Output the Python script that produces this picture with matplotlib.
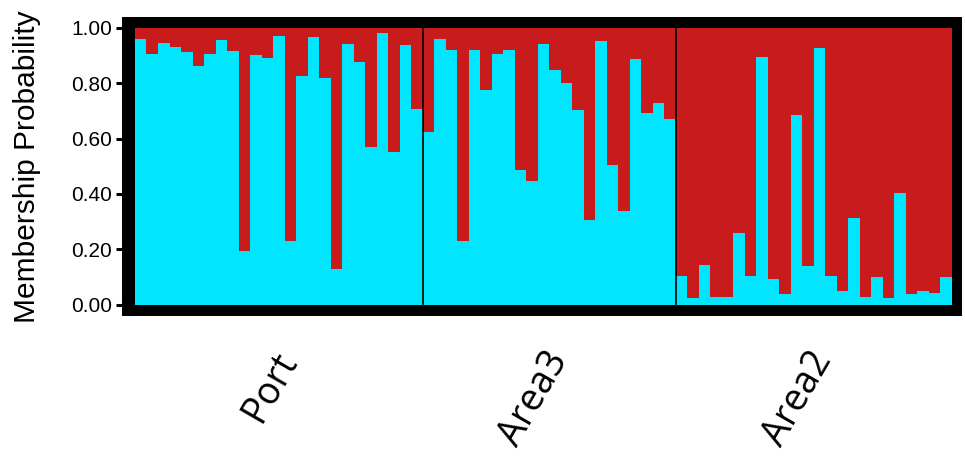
import matplotlib
matplotlib.use("Agg")
import matplotlib.pyplot as plt
import numpy as np

# membership probability of the cyan cluster for each individual
port = [0.958, 0.906, 0.946, 0.930, 0.911, 0.862, 0.905, 0.955, 0.916, 0.195,
        0.900, 0.892, 0.972, 0.229, 0.827, 0.965, 0.818, 0.128, 0.942, 0.875,
        0.568, 0.981, 0.551, 0.939, 0.705]
area3 = [0.622, 0.959, 0.918, 0.229, 0.919, 0.776, 0.906, 0.919, 0.485, 0.448,
         0.941, 0.846, 0.800, 0.703, 0.307, 0.953, 0.504, 0.338, 0.886, 0.692,
         0.727, 0.669]
area2 = [0.105, 0.025, 0.142, 0.029, 0.029, 0.259, 0.103, 0.893, 0.091, 0.039,
         0.685, 0.141, 0.927, 0.103, 0.051, 0.313, 0.028, 0.101, 0.023, 0.403,
         0.039, 0.049, 0.041, 0.101]
groups = ["Port", "Area3", "Area2"]
yticks = [0.0, 0.2, 0.4, 0.6, 0.8, 1.0]

cyan = "#00E6FF"
red = "#C81B1B"

pops = [port, area3, area2]
q1 = np.concatenate(pops)
n = len(q1)
x = np.arange(n)
sizes = [len(p) for p in pops]
bounds = np.cumsum(sizes)

fig = plt.figure(figsize=(9.65, 4.58), dpi=100)
ax = fig.add_axes([0.1264, 0.310, 0.8705, 0.6535])
ax.set_facecolor("black")

ax.bar(x, q1, width=1.0, align="edge", color=cyan, linewidth=0, antialiased=False)
ax.bar(x, 1 - q1, bottom=q1, width=1.0, align="edge", color=red, linewidth=0,
       antialiased=False)

# thin black lines between populations
for b in bounds[:-1]:
    ax.axvline(b, color="black", lw=1.2)

ax.set_xlim(-1.13, n + 0.87)
ax.set_ylim(-0.041, 1.04)
for s in ax.spines.values():
    s.set_visible(False)

ax.set_xticks([])
ax.set_yticks(yticks)
ax.set_yticklabels([f"{t:.2f}" for t in yticks], family="Liberation Sans", fontsize=15)
ax.tick_params(axis="y", direction="out", length=4, width=2.2, color="black", pad=3)
ax.set_ylabel("Membership Probability", family="Liberation Sans", fontsize=21.5,
              labelpad=22)

starts = np.concatenate([[0], bounds[:-1]])
for g, s0, sz in zip(groups, starts, sizes):
    ax.text(s0 + sz / 2 + 2.3, -0.097, g, transform=ax.get_xaxis_transform(),
            rotation=60, ha="right", va="top", family="Open Sans", fontsize=27)

fig.savefig("out.png", dpi=100)
